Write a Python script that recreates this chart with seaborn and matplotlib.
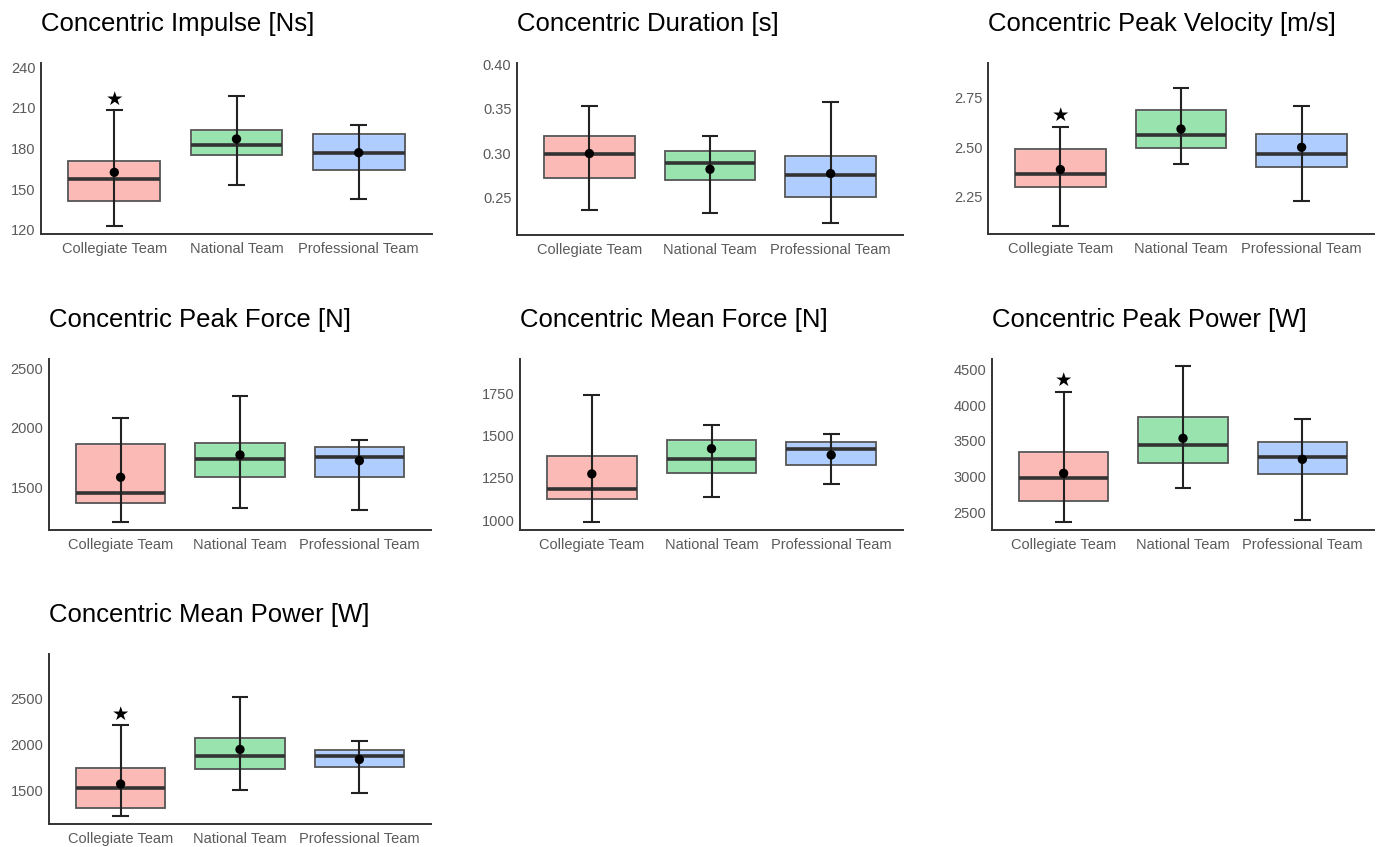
import numpy as np
import pandas as pd
import matplotlib
matplotlib.use("Agg")
import matplotlib.pyplot as plt
import seaborn as sns

# groups and colours
teams = ["Collegiate Team", "National Team", "Professional Team"]
team_colors = ["#F8766D", "#00BA38", "#619CFF"]
team_alpha = [0.5, 0.4, 0.5]

titles = [
    "Concentric Impulse [Ns]",
    "Concentric Duration [s]",
    "Concentric Peak Velocity [m/s]",
    "Concentric Peak Force [N]",
    "Concentric Mean Force [N]",
    "Concentric Peak Power [W]",
    "Concentric Mean Power [W]",
]

# one row per metric, one value per team
q1_vals = [
    [140.9, 175.3, 164.3],
    [0.2723, 0.2692, 0.2507],
    [2.298, 2.494, 2.401],
    [1369, 1587, 1587],
    [1123, 1276, 1326],
    [2667, 3188, 3044],
    [1317, 1737, 1755],
]
median_vals = [
    [157.6, 182.5, 176.6],
    [0.2987, 0.2889, 0.2757],
    [2.365, 2.564, 2.464],
    [1458, 1740, 1754],
    [1184, 1359, 1419],
    [2979, 3444, 3281],
    [1529, 1878, 1878],
]
q3_vals = [
    [170.4, 193.8, 190.8],
    [0.3199, 0.3029, 0.2964],
    [2.491, 2.691, 2.567],
    [1863, 1877, 1841],
    [1379, 1474, 1460],
    [3351, 3840, 3486],
    [1741, 2065, 1935],
]
mean_vals = [
    [162.3, 186.9, 176.8],
    [0.2995, 0.2817, 0.2768],
    [2.386, 2.592, 2.499],
    [1587, 1774, 1726],
    [1273, 1422, 1385],
    [3049, 3537, 3244],
    [1572, 1946, 1838],
]
low_vals = [
    [122.5, 153.2, 142.6],
    [0.2356, 0.2318, 0.2205],
    [2.098, 2.414, 2.225],
    [1212, 1332, 1313],
    [988, 1136, 1215],
    [2370, 2840, 2393],
    [1227, 1507, 1478],
]
high_vals = [
    [208.0, 218.4, 197.2],
    [0.3535, 0.3195, 0.3577],
    [2.604, 2.801, 2.711],
    [2087, 2268, 1897],
    [1740, 1565, 1511],
    [4188, 4551, 3802],
    [2205, 2518, 2032],
]
# significance star above the collegiate team
star_flags = [True, False, True, False, False, True, True]

y_ticks = [
    [120, 150, 180, 210, 240],
    [0.25, 0.30, 0.35, 0.40],
    [2.25, 2.50, 2.75],
    [1500, 2000, 2500],
    [1000, 1250, 1500, 1750],
    [2500, 3000, 3500, 4000, 4500],
    [1500, 2000, 2500],
]
y_tick_labels = [
    ["120", "150", "180", "210", "240"],
    ["0.25", "0.30", "0.35", "0.40"],
    ["2.25", "2.50", "2.75"],
    ["1500", "2000", "2500"],
    ["1000", "1250", "1500", "1750"],
    ["2500", "3000", "3500", "4000", "4500"],
    ["1500", "2000", "2500"],
]
y_limits = [
    (116.8, 243),
    (0.2073, 0.402),
    (2.058, 2.928),
    (1145, 2578),
    (941, 1953),
    (2258, 4644),
    (1140, 2978),
]

# panel boxes in pixels: left, top, right, bottom
panel_px = [
    (41, 63, 432, 234),
    (517, 63, 903, 235),
    (988, 63, 1374, 234),
    (49, 359, 431, 530),
    (520, 359, 903, 530),
    (992, 359, 1374, 530),
    (49, 654, 431, 824),
]

W, H = 1384, 847
sns.set_theme(style="white")
plt.rcParams["font.family"] = ["Liberation Sans", "DejaVu Sans"]

fig = plt.figure(figsize=(W / 100, H / 100), dpi=100)

for i, title in enumerate(titles):
    l, t, r, b = panel_px[i]
    ax = fig.add_axes([l / W, 1 - b / H, (r - l) / W, (b - t) / H])
    x = np.arange(len(teams))

    df = pd.DataFrame({
        "team": teams,
        "x": x,
        "q1": q1_vals[i],
        "med": median_vals[i],
        "q3": q3_vals[i],
        "mean": mean_vals[i],
        "lo": low_vals[i],
        "hi": high_vals[i],
    })

    # boxes
    for j, row in df.iterrows():
        ax.bar(row["x"], row["q3"] - row["q1"], bottom=row["q1"], width=0.75,
               color=team_colors[j], alpha=team_alpha[j], zorder=1)
        ax.bar(row["x"], row["q3"] - row["q1"], bottom=row["q1"], width=0.75,
               fill=False, edgecolor="#555555", linewidth=1.3, zorder=2)
    ax.hlines(df["med"], df["x"] - 0.375, df["x"] + 0.375,
              color="#333333", linewidth=2.6, zorder=3)

    # error bars with caps
    ax.vlines(df["x"], df["lo"], df["hi"], color="#222222", linewidth=1.5, zorder=4)
    ax.hlines(df["lo"], df["x"] - 0.07, df["x"] + 0.07, color="#222222", linewidth=1.5, zorder=4)
    ax.hlines(df["hi"], df["x"] - 0.07, df["x"] + 0.07, color="#222222", linewidth=1.5, zorder=4)

    # means
    sns.scatterplot(data=df, x="x", y="mean", color="black", s=45,
                    edgecolor="none", zorder=5, ax=ax, legend=False)

    if star_flags[i]:
        ax.annotate("\u2605", xy=(df["x"][0], df["hi"][0]), xytext=(0, 1),
                    textcoords="offset points", ha="center", va="bottom",
                    fontsize=14, color="black", family=["DejaVu Sans"])

    ax.set_xlim(-0.6, 2.6)
    ax.set_ylim(*y_limits[i])
    ax.set_xticks(x)
    ax.set_xticklabels(teams)
    ax.set_yticks(y_ticks[i])
    ax.set_yticklabels(y_tick_labels[i])
    ax.tick_params(axis="both", length=0, labelsize=10.5, labelcolor="#5a5a5a")
    ax.tick_params(axis="x", pad=6)
    ax.tick_params(axis="y", pad=4)
    ax.set_xlabel("")
    ax.set_ylabel("")
    sns.despine(ax=ax)
    for side in ["left", "bottom"]:
        ax.spines[side].set_color("#333333")
        ax.spines[side].set_linewidth(1.4)
    ax.set_title(title, loc="left", fontsize=18.5, color="black", pad=23)

fig.savefig("out.png", dpi=100)
plt.close(fig)
